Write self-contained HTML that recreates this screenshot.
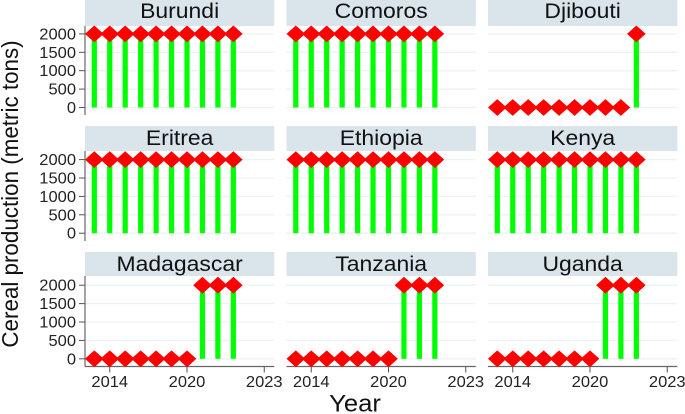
<!DOCTYPE html>
<html>
<head>
<meta charset="utf-8">
<style>
html,body{margin:0;padding:0;background:#fff;}
svg{display:block;font-family:"Liberation Sans",Arial,sans-serif;}
</style>
</head>
<body>
<svg id="chart" width="685" height="414" viewBox="0 0 685 414" xmlns="http://www.w3.org/2000/svg">
<text x="0" y="0" transform="translate(18,194) rotate(-90) scale(0.953,1)" text-anchor="middle" font-size="23.5" fill="#111">Cereal production (metric tons)</text>
<text x="0" y="0" transform="translate(355,411.5) scale(1.07,1)" text-anchor="middle" font-size="24" fill="#111">Year</text>
</svg>
<script>
const countries = ['Burundi','Comoros','Djibouti','Eritrea','Ethiopia','Kenya','Madagascar','Tanzania','Uganda'];
const periods = [1,2,3,4,5,6,7,8,9,10];
const burundi = [2000,2000,2000,2000,2000,2000,2000,2000,2000,2000];
const comoros = [2000,2000,2000,2000,2000,2000,2000,2000,2000,2000];
const djibouti = [0,0,0,0,0,0,0,0,0,2000];
const eritrea = [2000,2000,2000,2000,2000,2000,2000,2000,2000,2000];
const ethiopia = [2000,2000,2000,2000,2000,2000,2000,2000,2000,2000];
const kenya = [2000,2000,2000,2000,2000,2000,2000,2000,2000,2000];
const madagascar = [0,0,0,0,0,0,0,2000,2000,2000];
const tanzania = [0,0,0,0,0,0,0,2000,2000,2000];
const uganda = [0,0,0,0,0,0,0,2000,2000,2000];
const yTicks = [0,500,1000,1500,2000];
const xTickPeriods = [2,7,12];
const xTickLabels = ['2014','2020','2023'];

const seriesList = [burundi,comoros,djibouti,eritrea,ethiopia,kenya,madagascar,tanzania,uganda];
const colLeft = [85,286.5,488];
const panelW = 189.3;
const stripTop = [0,126,252];
const stripH = [26,25,24];
const titleBase = [18,145,271];
const zeroY = [107.5,233.2,358.8];
const plotBottom = [115,241,366.5];
const svg = document.getElementById('chart');
const NS = 'http://www.w3.org/2000/svg';

function add(tag, attrs, parent, text){
  const el = document.createElementNS(NS, tag);
  for (const k in attrs) el.setAttribute(k, attrs[k]);
  if (text !== undefined) el.textContent = text;
  (parent || svg).appendChild(el);
  return el;
}
function xPos(col, p){ return colLeft[col] + 9.3 + (p - 1) * 15.45; }
function yPos(row, v){ return zeroY[row] - v * 73.6 / 2000; }
function stretch(x, y, sx){ return 'translate(' + x + ',' + y + ') scale(' + sx + ',1)'; }

countries.forEach(function(name, i){
  const row = Math.floor(i / 3), col = i % 3;
  const left = colLeft[col], top = stripTop[row] + stripH[row];
  const g = add('g', {});
  
  

  const strip = add('rect', {x:left, y:stripTop[row], width:panelW, height:stripH[row], fill:'#d9e4eb'}, g);
  
  
  const title = add('text', {transform:stretch(left + panelW / 2, titleBase[row], 1.067), 'text-anchor':'middle', 'font-size':'21.5', fill:'#111'}, g, name);
  
  

  yTicks.forEach(function(t){
    const y = yPos(row, t);
    const grid = add('line', {x1:left, x2:left + panelW, y1:y, y2:y, stroke:'#eaf2f3', 'stroke-width':'1.3'}, g);
    
    
    if (col === 0) {
      const tick = add('line', {x1:left - 6, x2:left, y1:y, y2:y, stroke:'#555', 'stroke-width':'1'}, g);
      
      
      const lab = add('text', {transform:stretch(left - 9, y + 5.5, 1.065), 'text-anchor':'end', 'font-size':'15.5', fill:'#222'}, g, String(t));
      
      
    }
  });

  if (col === 0) {
    const yAxis = add('line', {x1:left, x2:left, y1:top, y2:plotBottom[row], stroke:'#666', 'stroke-width':'1.2'}, g);
    
    
  }
  if (row === 2) {
    const xAxis = add('line', {x1:left, x2:left + panelW, y1:plotBottom[row], y2:plotBottom[row], stroke:'#666', 'stroke-width':'1.2'}, g);
    
    
    xTickPeriods.forEach(function(p, k){
      const x = xPos(col, p);
      const tick = add('line', {x1:x, x2:x, y1:plotBottom[row], y2:plotBottom[row] + 6, stroke:'#555', 'stroke-width':'1'}, g);
      
      
      const lab = add('text', {transform:stretch(x, 387, 1.065), 'text-anchor':'middle', 'font-size':'15.5', fill:'#222'}, g, xTickLabels[k]);
      
      
    });
  }

  const values = seriesList[i];
  periods.forEach(function(p, k){
    const x = xPos(col, p), yv = yPos(row, values[k]), y0 = yPos(row, 0);
    if (values[k] !== 0) {
      const bar = add('rect', {x:x - 2.6, y:yv, width:5.2, height:y0 - yv, fill:'#00ff00'}, g);
      
      
    }
  });
  periods.forEach(function(p, k){
    const x = xPos(col, p), yv = yPos(row, values[k]);
    const pts = [[x-9.3,yv],[x,yv-8.4],[x+9.3,yv],[x,yv+8.4]].map(function(q){return q.join(',');}).join(' ');
    const marker = add('polygon', {points:pts, fill:'#ff0000'}, g);
    
    
  });
});
</script>
</body>
</html>
